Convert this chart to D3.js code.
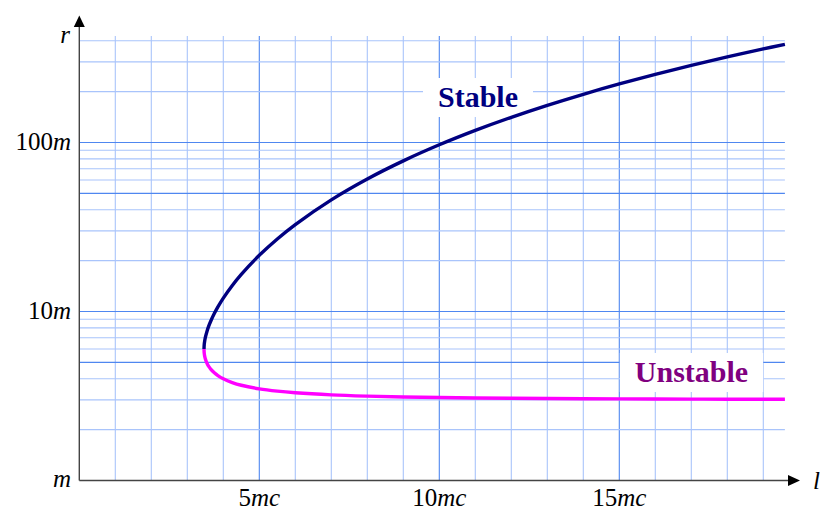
<!DOCTYPE html>
<html>
<head>
<meta charset="utf-8">
<script src="https://cdn.jsdelivr.net/npm/d3@7/dist/d3.min.js"></script>
<style>
  html, body { margin: 0; padding: 0; background: #fff; }
  svg { display: block; }
</style>
</head>
<body>
<svg id="chart" width="822" height="510"></svg>
<script>
// Circular orbits: angular momentum l (units of mc) vs radius r (units of m)
const stableL = [3.4641, 3.47, 3.48, 3.5, 3.55, 3.6, 3.65, 3.75, 3.85, 4, 4.25, 4.5, 5, 5.5, 6, 7, 8, 9, 10, 11, 12, 13, 14, 15, 16, 17, 18, 19, 19.6];
const stableR = [6.0, 6.371, 6.633, 7.0, 7.679, 8.244, 8.760, 9.724, 10.645, 12.0, 14.263, 16.588, 21.514, 26.873, 32.697, 45.79, 60.844, 77.88, 96.904, 117.92, 140.93, 165.94, 192.95, 221.96, 252.96, 285.97, 320.97, 357.97, 381.14];

const unstableL = [3.4641, 3.47, 3.48, 3.5, 3.55, 3.6, 3.65, 3.75, 3.85, 4, 4.25, 4.5, 5, 5.5, 6, 7, 8, 9, 10, 11, 12, 13, 14, 15, 16, 17, 18, 19, 19.6];
const unstableR = [6.0, 5.670, 5.477, 5.25, 4.924, 4.716, 4.563, 4.339, 4.177, 4.0, 3.799, 3.662, 3.486, 3.377, 3.303, 3.210, 3.156, 3.120, 3.096, 3.078, 3.065, 3.055, 3.047, 3.041, 3.036, 3.032, 3.028, 3.025, 3.024];

// Axis tick labels
const xTickVals = [5, 10, 15];
const xTickNums = ["5", "10", "15"];
const yTickVals = [1, 10, 100];
const yTickNums = ["", "10", "100"];

// Grid lines
const xGrid = d3.range(1, 20);
const xGridMajor = [5, 10, 15];
const yGrid = [2, 3, 4, 5, 6, 7, 8, 9, 10, 20, 30, 40, 50, 60, 70, 80, 90, 100, 200, 300, 400];
const yGridMajor = [5, 10, 50, 100];

const xMax = 19.6;

const SERIF = "'Liberation Serif', 'DejaVu Serif', 'Times New Roman', Times, serif";

const svg = d3.select("#chart");

const x = d3.scaleLinear().domain([0, 1]).range([79.3, 115.3]);
const y = d3.scaleLog().domain([1, 10]).range([480.5, 311.5]);

const plotLeft = x(0), plotRight = x(xMax), plotTop = 36, plotBottom = y(1);

const minorCol = "#a9c4fb", majorCol = "#4f87f0";

// vertical grid
svg.append("g").selectAll("line").data(xGrid).join("line")
  .attr("x1", d => x(d)).attr("x2", d => x(d))
  .attr("y1", plotTop).attr("y2", plotBottom)
  .attr("stroke", d => xGridMajor.includes(d) ? majorCol : minorCol)
  .attr("stroke-width", 1.1);

// horizontal grid
svg.append("g").selectAll("line").data(yGrid).join("line")
  .attr("x1", plotLeft).attr("x2", plotRight)
  .attr("y1", d => y(d)).attr("y2", d => y(d))
  .attr("stroke", d => yGridMajor.includes(d) ? majorCol : minorCol)
  .attr("stroke-width", 1.1);

// white boxes behind the branch tags (drawn under the curves)
const boxLayer = svg.append("g");

// curves
const line = d3.line().x(d => x(d[0])).y(d => y(d[1])).curve(d3.curveCatmullRom.alpha(0.5));
const stablePts = stableL.map((l, i) => [l, stableR[i]]);
const unstablePts = unstableL.map((l, i) => [l, unstableR[i]]);

svg.append("path").attr("d", line(unstablePts))
  .attr("fill", "none").attr("stroke", "#ff00ff").attr("stroke-width", 3.4);
svg.append("path").attr("d", line(stablePts))
  .attr("fill", "none").attr("stroke", "#000080").attr("stroke-width", 3.4);

// axes with arrows
const axisCol = "#444";
svg.append("line").attr("x1", plotLeft).attr("x2", 790).attr("y1", plotBottom).attr("y2", plotBottom)
  .attr("stroke", axisCol).attr("stroke-width", 1.4);
svg.append("line").attr("x1", plotLeft).attr("x2", plotLeft).attr("y1", plotBottom).attr("y2", 26)
  .attr("stroke", axisCol).attr("stroke-width", 1.4);
svg.append("path").attr("d", `M800,${plotBottom} L788,${plotBottom - 5.5} L788,${plotBottom + 5.5} Z`).attr("fill", "#000");
svg.append("path").attr("d", `M${plotLeft},15.5 L${plotLeft - 5.5},27 L${plotLeft + 5.5},27 Z`).attr("fill", "#000");

function lbl(sel) {
  return sel.attr("font-family", SERIF).attr("font-size", 25).attr("fill", "#000");
}

// x tick labels
const xl = lbl(svg.append("g").selectAll("text").data(xTickVals).join("text"))
  .attr("text-anchor", "middle")
  .attr("x", d => x(d)).attr("y", 505.5);
xl.append("tspan").text((d, i) => xTickNums[i]);
xl.append("tspan").attr("font-style", "italic").text("mc");

// y tick labels
const yl = lbl(svg.append("g").selectAll("text").data(yTickVals).join("text"))
  .attr("text-anchor", "end")
  .attr("x", 71).attr("y", (d, i) => y(d) + (i === 0 ? 6 : 7));
yl.append("tspan").text((d, i) => yTickNums[i]);
yl.append("tspan").attr("font-style", "italic").text("m");

// axis names
lbl(svg.append("text")).attr("font-style", "italic").attr("text-anchor", "end").attr("x", 70).attr("y", 43).text("r");
lbl(svg.append("text")).attr("font-style", "italic").attr("x", 813).attr("y", 489).text("l");

// branch tags
function tag(txt, cx, baseY, col) {
  const t = svg.append("text")
    .attr("font-family", SERIF).attr("font-size", 30).attr("font-weight", "bold")
    .attr("text-anchor", "middle")
    .attr("x", cx).attr("y", baseY).attr("fill", col).text(txt);
  const b = t.node().getBBox();
  boxLayer.append("rect").attr("fill", "#fff")
    .attr("x", b.x - 15).attr("y", baseY - 29).attr("width", b.width + 30).attr("height", 39);
}
tag("Stable", 478, 107, "#000080");
tag("Unstable", 691.5, 382, "#800080");
</script>
</body>
</html>
